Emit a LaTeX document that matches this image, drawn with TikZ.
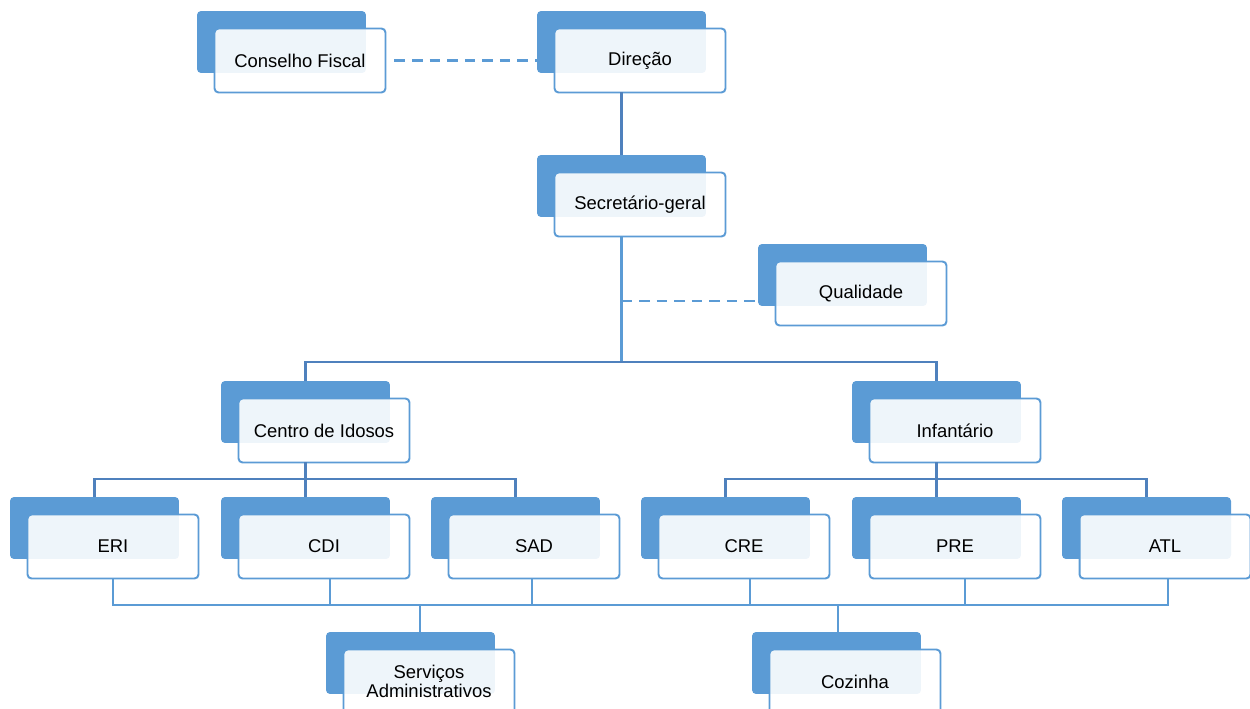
\documentclass[tikz,border=0pt]{standalone}
\usepackage{fontspec}
\setmainfont{Liberation Sans}
\definecolor{boxblue}{RGB}{91,155,213}
\definecolor{lineblue}{RGB}{79,129,189}
\begin{document}
\begin{tikzpicture}[x=0.02cm,y=-0.02cm,
  backbox/.style={rectangle,rounded corners=0.08cm,fill=boxblue,minimum width=3.38cm,minimum height=1.24cm,inner sep=0,outer sep=0},
  frontbox/.style={rectangle,rounded corners=0.08cm,draw=boxblue,line width=1.1pt,fill=white,fill opacity=0.9,text opacity=1,minimum width=3.42cm,minimum height=1.28cm,inner sep=0,outer sep=0,font=\fontsize{10.5}{11}\selectfont,align=center},
  link/.style={draw=boxblue,line width=1.5pt},
  trunk/.style={draw=lineblue,line width=1.5pt},
  dashlink/.style={draw=boxblue,line width=1.5pt,dash pattern=on 6pt off 4pt}]

\useasboundingbox (0,0) rectangle (1250,709);

\node[backbox] (cf-b) at (281.5,42) {};
\node[frontbox] (cf) at (300,60.5) {Conselho Fiscal};
\node[backbox] (dir-b) at (621.5,42) {};
\node[frontbox] (dir) at (640,60.5) {Direção};

\node[backbox] (sec-b) at (621.5,186) {};
\node[frontbox] (sec) at (640,204.5) {Secretário-geral};
\node[backbox] (qual-b) at (842.5,275) {};
\node[frontbox] (qual) at (861,293.5) {Qualidade};

\node[backbox] (cid-b) at (305.5,412) {};
\node[frontbox] (cid) at (324,430.5) {Centro de Idosos};
\node[backbox] (inf-b) at (936.5,412) {};
\node[frontbox] (inf) at (955,430.5) {Infantário};

\node[backbox] (eri-b) at (94.5,528) {};
\node[frontbox] (eri) at (113,546.5) {ERI};
\node[backbox] (cdi-b) at (305.5,528) {};
\node[frontbox] (cdi) at (324,546.5) {CDI};
\node[backbox] (sad-b) at (515.5,528) {};
\node[frontbox] (sad) at (534,546.5) {SAD};

\node[backbox] (cre-b) at (725.5,528) {};
\node[frontbox] (cre) at (744,546.5) {CRE};
\node[backbox] (pre-b) at (936.5,528) {};
\node[frontbox] (pre) at (955,546.5) {PRE};
\node[backbox] (atl-b) at (1146.5,528) {};
\node[frontbox] (atl) at (1165,546.5) {ATL};

\node[backbox] (sa-b) at (410.5,663) {};
\node[frontbox] (sa) at (429,681.5) {Serviços\\Administrativos};
\node[backbox] (coz-b) at (836.5,663) {};
\node[frontbox] (coz) at (855,681.5) {Cozinha};

% top of the chart
\draw[dashlink] ([xshift=0.18cm]cf.east) -- (cf.east -| dir-b.west);
\draw[trunk] (dir-b.center |- dir.south) -- (sec-b.north);
\coordinate (j1) at (621.5,362);
\coordinate (q1) at (621.5,301);
\draw[link] (sec-b.center |- sec.south) -- (j1);
\draw[dashlink] (q1) -- (q1 -| qual-b.west);
\draw[trunk] (cid-b.north) |- (j1) -| (inf-b.north);

% two branches
\coordinate (j2) at (305.5,479);
\draw[trunk] (cid-b.center |- cid.south) -- (j2);
\draw[trunk] (eri-b.north) |- (j2) -| (sad-b.north);
\draw[trunk] (j2) -- (cdi-b.north);
\coordinate (j3) at (936.5,479);
\draw[trunk] (inf-b.center |- inf.south) -- (j3);
\draw[trunk] (cre-b.north) |- (j3) -| (atl-b.north);
\draw[trunk] (j3) -- (pre-b.north);

% common services
\coordinate (j4) at (636,605);
\draw[link] (eri.south) |- (j4) -| ([xshift=0.06cm]atl.south);
\foreach \n/\dx in {cdi/6,sad/-2,cre/6,pre/10}
  \draw[link] ([xshift=\dx*0.02cm]\n.south) -- ([xshift=\dx*0.02cm]\n.south |- j4);
\draw[link] ([xshift=0.19cm]sa-b.north) -- ([xshift=0.19cm]sa-b.north |- j4);
\draw[link] ([xshift=0.03cm]coz-b.north) -- ([xshift=0.03cm]coz-b.north |- j4);

\end{tikzpicture}
\end{document}
